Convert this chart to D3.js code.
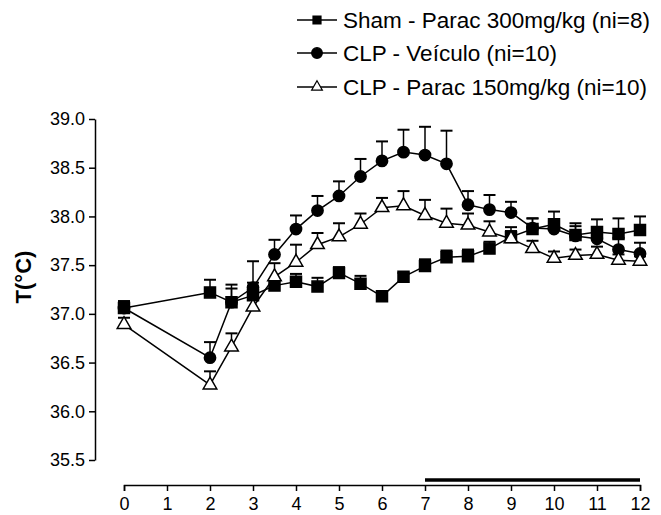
<!DOCTYPE html>
<html>
<head>
<meta charset="utf-8">
<script src="https://cdn.jsdelivr.net/npm/d3@7"></script>
<style>
  body { margin: 0; background: #fff; }
  svg { font-family: Arial, "Liberation Sans", sans-serif; }
</style>
</head>
<body>
<div id="chart"></div>
<script>
// time (h) of each reading
const times = [0, 2, 2.5, 3, 3.5, 4, 4.5, 5, 5.5, 6, 6.5, 7, 7.5, 8, 8.5, 9, 9.5, 10, 10.5, 11, 11.5, 12];

// Sham - Parac 300mg/kg
const shamMean = [37.06, 37.22, 37.12, 37.19, 37.29, 37.33, 37.28, 37.42, 37.31, 37.18, 37.38, 37.49, 37.58, 37.59, 37.67, 37.79, 37.87, 37.92, 37.81, 37.84, 37.82, 37.86];
const shamErr = [0.07, 0.13, 0.14, 0.13, 0.06, 0.08, 0.09, 0.06, 0.08, 0.05, 0.04, 0.07, 0.07, 0.07, 0.07, 0.10, 0.11, 0.13, 0.12, 0.13, 0.16, 0.14];

// CLP - Veiculo
const veicMean = [37.06, 36.55, 37.12, 37.27, 37.61, 37.87, 38.06, 38.21, 38.41, 38.57, 38.66, 38.63, 38.54, 38.12, 38.07, 38.04, 37.88, 37.87, 37.80, 37.77, 37.66, 37.62];
const veicErr = [0.07, 0.16, 0.18, 0.27, 0.15, 0.14, 0.15, 0.15, 0.18, 0.20, 0.23, 0.29, 0.34, 0.14, 0.15, 0.11, 0.10, 0.10, 0.10, 0.12, 0.12, 0.11];

// CLP - Parac 150mg/kg
const paracMean = [36.89, 36.27, 36.66, 37.07, 37.38, 37.53, 37.71, 37.79, 37.92, 38.09, 38.11, 38.01, 37.93, 37.91, 37.84, 37.77, 37.67, 37.57, 37.60, 37.61, 37.55, 37.54];
const paracErr = [0.07, 0.14, 0.14, 0.12, 0.14, 0.18, 0.12, 0.14, 0.11, 0.10, 0.15, 0.16, 0.15, 0.12, 0.11, 0.08, 0.08, 0.07, 0.06, 0.08, 0.06, 0.05];

const legendLabels = ["Sham - Parac 300mg/kg (ni=8)", "CLP - Veículo (ni=10)", "CLP - Parac 150mg/kg (ni=10)"];
const yTicks = [35.5, 36.0, 36.5, 37.0, 37.5, 38.0, 38.5, 39.0];
const xTicks = [0, 1, 2, 3, 4, 5, 6, 7, 8, 9, 10, 11, 12];
const barRange = [7, 12];

const width = 661, height = 515;

const svg = d3.select("#chart").append("svg")
    .attr("width", width)
    .attr("height", height);

const x = d3.scaleLinear().domain([0, 12]).range([124, 640]);
const y = d3.scaleLinear().domain([35.5, 39]).range([460, 119]);

// y axis
const yAxis = svg.append("g")
    .attr("transform", "translate(95,0)")
    .call(d3.axisLeft(y).tickValues(yTicks).tickFormat(d3.format(".1f")).tickSize(6).tickSizeOuter(0).tickPadding(4));
yAxis.selectAll("text").attr("font-size", 18).attr("fill", "#000").attr("font-family", null);
yAxis.selectAll("path, line").attr("stroke", "#000").attr("stroke-width", 1.5);

// x axis
const xAxis = svg.append("g")
    .attr("transform", "translate(0,485)")
    .call(d3.axisBottom(x).tickValues(xTicks).tickSize(6).tickSizeOuter(6).tickPadding(6));
xAxis.selectAll("text").attr("font-size", 18).attr("fill", "#000").attr("font-family", null);
xAxis.selectAll("path, line").attr("stroke", "#000").attr("stroke-width", 1.5);

// axis title
svg.append("text")
    .attr("transform", "translate(31,277) rotate(-90)")
    .attr("text-anchor", "middle")
    .attr("font-size", 22)
    .attr("font-weight", "bold")
    .text("T(°C)");

// thick bar above x axis
svg.append("line")
    .attr("x1", x(barRange[0])).attr("x2", x(barRange[1]))
    .attr("y1", 480).attr("y2", 480)
    .attr("stroke", "#000").attr("stroke-width", 3.5);

const series = [
    { mean: shamMean, err: shamErr, symbol: d3.symbolSquare, size: 121, fill: "#000" },
    { mean: veicMean, err: veicErr, symbol: d3.symbolCircle, size: 100, fill: "#000" },
    { mean: paracMean, err: paracErr, symbol: d3.symbolTriangle, size: 80, fill: "#fff" }
];

const line = d3.line()
    .x(d => x(d.t))
    .y(d => y(d.v));

series.forEach(s => {
    const pts = times.map((t, i) => ({ t: t, v: s.mean[i], e: s.err[i] }));
    const g = svg.append("g");

    // upper error bars
    g.selectAll(".err")
        .data(pts)
        .enter().append("line")
        .attr("x1", d => x(d.t)).attr("x2", d => x(d.t))
        .attr("y1", d => y(d.v)).attr("y2", d => y(d.v + d.e))
        .attr("stroke", "#000").attr("stroke-width", 1.5);
    g.selectAll(".cap")
        .data(pts)
        .enter().append("line")
        .attr("x1", d => x(d.t) - 6).attr("x2", d => x(d.t) + 6)
        .attr("y1", d => y(d.v + d.e)).attr("y2", d => y(d.v + d.e))
        .attr("stroke", "#000").attr("stroke-width", 2);

    g.append("path")
        .datum(pts)
        .attr("d", line)
        .attr("fill", "none")
        .attr("stroke", "#000")
        .attr("stroke-width", 1.5);

    g.selectAll(".pt")
        .data(pts)
        .enter().append("path")
        .attr("transform", d => `translate(${x(d.t)},${y(d.v)})`)
        .attr("d", d3.symbol(s.symbol, s.size))
        .attr("fill", s.fill)
        .attr("stroke", "#000")
        .attr("stroke-width", 1.5);
});

// legend
const legendY = [20, 53, 87];
const legendSizes = [64, 90, 50];
const legend = svg.append("g");
series.forEach((s, i) => {
    legend.append("line")
        .attr("x1", 297).attr("x2", 337)
        .attr("y1", legendY[i]).attr("y2", legendY[i])
        .attr("stroke", "#000").attr("stroke-width", 1.5);
    legend.append("path")
        .attr("transform", `translate(317,${legendY[i]})`)
        .attr("d", d3.symbol(s.symbol, legendSizes[i]))
        .attr("fill", s.fill)
        .attr("stroke", "#000")
        .attr("stroke-width", 1.2);
    legend.append("text")
        .attr("x", 343)
        .attr("y", legendY[i])
        .attr("dy", "0.36em")
        .attr("font-size", 22.5)
        .text(legendLabels[i]);
});
</script>
</body>
</html>
